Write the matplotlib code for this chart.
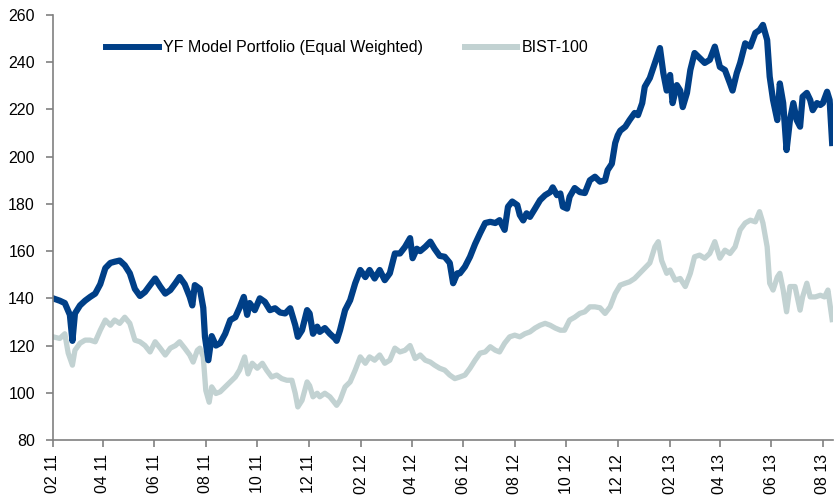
import numpy as np
import pandas as pd
import matplotlib
matplotlib.use("Agg")
import matplotlib.pyplot as plt
import matplotlib.dates as mdates
from matplotlib import font_manager

START = pd.Timestamp("2011-02-01")

# days since 1 Feb 2011
yf_days = [0, 8, 14, 20, 23, 26, 32, 38, 44, 50, 56, 62, 68, 73, 79, 85, 91, 97, 103, 109,
           115, 121, 127, 133, 139, 145, 150, 156, 162, 165, 168, 174, 178, 180, 184, 188, 193, 198, 204, 210,
           216, 221, 226, 230, 233, 239, 245, 251, 257, 263, 269, 275, 281, 287, 290, 295, 301, 304, 308, 313,
           316, 322, 328, 334, 336, 340, 346, 352, 358, 364, 370, 375, 381, 387, 393, 399, 405, 411, 417, 423,
           426, 431, 435, 441, 447, 452, 458, 464, 470, 474, 479, 482, 488, 494, 500, 506, 512, 518, 524, 529,
           535, 539, 544, 550, 553, 557, 561, 565, 571, 577, 583, 589, 592, 597, 601, 604, 609, 612, 618, 624,
           630, 636, 642, 648, 654, 657, 662, 666, 669, 672, 678, 683, 689, 693, 698, 701, 707, 713, 719, 723,
           727, 731, 734, 739, 743, 746, 751, 755, 760, 766, 772, 778, 784, 790, 796, 802, 805, 810, 814, 820,
           826, 832, 837, 841, 846, 849, 853, 858, 861, 865, 869, 873, 877, 881, 885, 888, 893, 897, 900, 905,
           909, 912, 917, 920, 923]
yf_vals = [140, 139, 138, 133, 122, 133.6, 137, 139, 140.6, 142, 146, 152.8, 155, 155.5, 156, 154, 150.6, 144, 141, 142.7,
           145.6, 148.4, 145, 142, 143.5, 146.4, 149, 146, 140.6, 137, 145.6, 144, 136, 123.7, 113.8, 124, 120, 121, 125, 130.8,
           132, 136, 140.6, 133, 138, 135, 140, 138.5, 135, 135.8, 134, 133.6, 135.8, 128.6, 123.7, 126.5, 135, 133.6, 125, 128,
           125.8, 127.4, 125, 123, 122, 126.5, 135, 139.2, 146.4, 152, 149, 152, 148.4, 152, 147.7, 150.6, 159, 159, 161.8, 165.5,
           157, 161, 160, 161.8, 164, 161, 158, 157.6, 155, 146.4, 150.6, 150.6, 153.4, 157.6, 163, 167.6, 171.9, 172.4, 171.9, 173.1,
           169, 178.8, 181, 179.5, 175.3, 173, 176, 174.5, 178, 181.6, 183.7, 185, 187, 183.7, 184.4, 178.8, 178, 183, 186.7, 185,
           184.6, 190, 191.5, 189.4, 190, 194.3, 197, 205.8, 209, 211, 212.7, 215.5, 218.5, 217.6, 222.7, 229.6, 233.3, 239.7, 246, 235.4,
           228, 234.6, 222.7, 230.3, 228, 221, 227, 236.7, 243.9, 241.8, 239.7, 241, 246.6, 238, 236.7, 231, 228, 235.4, 239.7, 248,
           246.6, 252.4, 253.6, 255.8, 249.4, 233.9, 224, 215.5, 231, 222.7, 202.8, 215.5, 222.7, 215.5, 212.7, 225.4, 227, 224, 219.7, 222.7,
           221.9, 222.7, 227.5, 224, 205.8]

bist_days = [0, 8, 14, 18, 23, 26, 32, 38, 44, 50, 56, 62, 68, 73, 79, 85, 91, 97, 103, 109,
             115, 121, 127, 133, 139, 145, 150, 156, 162, 166, 171, 174, 178, 181, 185, 188, 193, 198, 204, 210,
             216, 221, 227, 231, 236, 242, 248, 253, 259, 265, 271, 277, 283, 287, 290, 295, 301, 304, 308, 313,
             316, 322, 328, 334, 336, 340, 346, 352, 358, 364, 370, 375, 381, 387, 393, 399, 405, 411, 417, 423,
             429, 435, 441, 447, 452, 458, 464, 470, 476, 482, 488, 494, 500, 506, 512, 518, 524, 529, 535, 541,
             547, 553, 559, 565, 571, 577, 583, 589, 595, 601, 606, 612, 618, 624, 630, 636, 642, 648, 654, 660,
             666, 672, 678, 683, 689, 695, 701, 707, 713, 717, 721, 727, 731, 737, 743, 749, 755, 760, 766, 772,
             778, 784, 790, 796, 802, 808, 814, 820, 826, 832, 837, 841, 846, 849, 853, 858, 861, 865, 869, 873,
             879, 885, 888, 893, 897, 903, 909, 914, 918, 923]
bist_vals = [123.7, 123, 125, 116.8, 111.7, 118, 121, 122.3, 122.3, 121.6, 126.5, 130.8, 128.6, 130.8, 129.4, 132, 129.4, 122.3, 121.6, 120,
             117.3, 121.6, 118.9, 116, 118.9, 120, 121.6, 118.9, 116, 113, 118, 118.9, 115.2, 101, 96, 102.5, 99.7, 100.4, 102.5, 104.6,
             106.7, 109.6, 115.2, 108, 112.5, 110.4, 112.5, 109.6, 106.7, 107.5, 106, 105.3, 105.3, 99.7, 94, 96.8, 104.6, 103, 98.3, 99.8,
             98.3, 99.8, 98.3, 95.6, 94.7, 96.8, 102.5, 104.6, 109.6, 115.2, 112.5, 115.2, 113.8, 116, 112.5, 113.8, 118.9, 117.3, 118, 120,
             114.5, 116, 113.8, 113, 111.7, 110.4, 109.6, 107.5, 106, 106.7, 107.5, 110.4, 113.8, 116.8, 117.3, 119.5, 118, 117.3, 121, 123.7,
             124.4, 123.7, 125, 125.8, 127.4, 128.6, 129.4, 128.6, 127.4, 126.5, 126.5, 130.8, 132, 133.6, 134.3, 136.4, 136.4, 136, 133.6, 136.4,
             142, 145.6, 146.4, 147, 148.4, 150.6, 152.8, 155, 161.8, 164, 156, 150.6, 152, 147.7, 148.4, 145, 150.6, 157.6, 158.3, 157,
             159, 164, 157, 160.4, 159, 161.8, 169, 171.9, 173.1, 172.4, 176.7, 171.9, 161.8, 146.4, 143.5, 149, 150.6, 143.5, 134.3, 145,
             145, 135, 140.6, 146.4, 140.6, 140.6, 141.3, 140.6, 143.5, 131]

y_ticks = [80, 100, 120, 140, 160, 180, 200, 220, 240, 260]

yf_dates = START + pd.to_timedelta(yf_days, unit="D")
bist_dates = START + pd.to_timedelta(bist_days, unit="D")

# the original uses a narrow Arial-like face; fall back to plain Liberation Sans
names = {f.name for f in font_manager.fontManager.ttflist}
if "Liberation Sans Narrow" in names:
    plt.rcParams["font.family"] = ["Liberation Sans Narrow", "DejaVu Sans"]
    fs = 13
else:
    plt.rcParams["font.family"] = ["Liberation Sans", "DejaVu Sans"]
    fs = 11.5

fig = plt.figure(figsize=(8.34, 5.0), dpi=100)
ax = fig.add_axes([53 / 834, 60 / 500, 780 / 834, 425 / 500])

ax.plot(bist_dates, bist_vals, color="#C2D2D2", lw=3.8, solid_joinstyle="round",
        label="BIST-100")
ax.plot(yf_dates, yf_vals, color="#003F87", lw=4.5, solid_joinstyle="round",
        label="YF Model Portfolio (Equal Weighted)")

ax.set_ylim(80, 260)
ax.set_yticks(y_ticks)
ax.set_xlim(START, START + pd.Timedelta(days=924))
ax.xaxis.set_major_locator(mdates.MonthLocator(bymonth=[2, 4, 6, 8, 10, 12]))
ax.xaxis.set_major_formatter(mdates.DateFormatter("%m %y"))
for lbl in ax.get_xticklabels():
    lbl.set_rotation(90)

for s in ["top", "right"]:
    ax.spines[s].set_visible(False)
for s in ["left", "bottom"]:
    ax.spines[s].set_color("#808080")
    ax.spines[s].set_linewidth(1.2)
ax.tick_params(axis="both", direction="out", length=5, width=1.2, color="#808080",
               labelsize=fs, labelcolor="black")
ax.tick_params(axis="y", pad=8)
ax.tick_params(axis="x", pad=5)

# legend order: portfolio first
handles, labels = ax.get_legend_handles_labels()
leg = ax.legend(handles[::-1], labels[::-1], loc="upper left",
                bbox_to_anchor=(100 / 834, 1 - 34 / 500),
                bbox_transform=fig.transFigure, ncol=2, frameon=False,
                fontsize=fs, handlelength=3.3, handletextpad=0.25,
                columnspacing=2.6, borderaxespad=0)
for h in leg.get_lines():
    h.set_linewidth(4.3)

fig.savefig("out.png", dpi=100)
